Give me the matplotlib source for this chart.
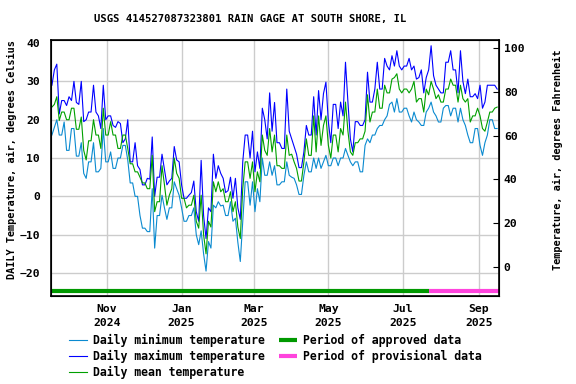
import matplotlib
matplotlib.use("Agg")
import matplotlib.pyplot as plt
import pandas as pd

# values, one every 2 days starting 2024-09-17
start_day = "2024-09-17"
t_max = [29, 33, 34.5, 21.5, 25, 25, 23.7, 26, 25, 30, 24.5, 24, 30, 19.5, 20, 22, 22, 29, 22, 21,
         17.7, 29, 20, 21, 21, 18.5, 18, 19.5, 19, 14, 15, 20, 9, 9, 14, 8, 7, 3, 3, 4.7,
         4.5, 15.5, 0, 5, 5, 11, 7, 3, 4, 4.7, 13, 9.5, 9, 3, -0.5, -0.5, 0.3, 1, 4, -4,
         -6.5, 9.4, -5, -11, -3, -4, 11, 4.7, 8, 6, 4.7, 1, 1.5, 5, -0.5, 4.7, -3, -6, 9, 16,
         16, 10, 17, 6.4, 11.6, 7.3, 23, 20, 15, 27, 17, 24.5, 14, 14, 12.5, 12.5, 28, 17, 15, 13,
         11, 7.5, 7.5, 11.6, 18.5, 16, 16, 26, 16, 27.6, 20, 26.8, 29.8, 19.4, 14, 24, 24, 17.7, 24.6, 21,
         35, 24.6, 15, 11.6, 19.5, 19.5, 18.5, 18.5, 20, 32.4, 24.6, 24.6, 28, 35, 28, 28, 36, 34, 33, 36.7,
         34, 38, 34, 33, 34, 34, 36, 33, 34, 30.6, 31, 33, 27, 31, 33, 39.3, 31.5, 29, 28, 27,
         27, 35, 35, 38, 33, 33, 27, 38, 30, 26.8, 30.6, 26, 26, 26.8, 25.5, 29, 23, 24.6, 29, 29,
         29, 29, 28]
t_mean = [23.3, 24, 26, 19.8, 22, 22, 20, 20, 23, 23, 17.5, 17.5, 20.7, 12, 9.5, 14.5, 14.5, 20, 16, 16,
          12.5, 23, 16, 16, 19.5, 16, 16, 12.5, 12.5, 16, 16, 12.5, 8.5, 8.5, 6.4, 6.4, 5, 3.5, 3.5, 2,
          2, 10.7, -4, -1.4, -1.4, 8, 3, -2.3, 0.3, 2, 10, 6, 4.7, -0.5, -0.5, -3, -2.3, -2.3, 0.3, -6.5,
          -8.3, 0.3, -10, -15, -6.5, -8, 3.8, 1.2, 3.8, 1.2, 2, -1.4, -1.4, 1.2, -4, -1.4, -8, -11, 2, 9,
          9, 4.7, 9, 1.2, 6.4, 3.8, 16, 12, 10.7, 17.7, 11.6, 16, 8, 8, 7.3, 7.3, 16, 10.7, 11, 9,
          7.3, 4, 4, 9, 15, 10.7, 10.7, 21, 11.6, 21, 13.3, 18.5, 21, 13.3, 10, 16, 16, 11.6, 17.7, 16,
          24.6, 17, 11.6, 10.7, 14, 14, 15, 15, 17, 26.5, 19.4, 22, 22, 28, 23, 23, 29, 27, 27, 30.6,
          31, 32, 28, 27, 28, 28, 27, 28, 30, 24.6, 25.5, 25.5, 22, 28, 26.5, 30, 28, 25.5, 26.5, 24.6,
          24.6, 28, 28, 30.6, 29, 29, 24.6, 29, 25.5, 24.6, 25.5, 19.4, 21, 21, 23, 21, 17.7, 17, 19.4, 22,
          22, 23, 23.3]
t_min = [16, 18, 20, 16, 16, 19.4, 12, 12, 17.7, 17.7, 10.5, 10.5, 14, 6, 4.7, 9, 9, 14, 6.4, 6.4,
         7.3, 17.7, 9, 9, 11.6, 7.3, 7.3, 10, 10, 13.3, 13.3, 9.5, 3.5, 3.5, 0, 0, -5, -8.3, -8.3, -9.2,
         -9.2, 2, -13.5, -5, -5, 0.3, -3, -6, -3, -3, 3.8, 2, 0.3, -3, -6.5, -6.5, -5, -5, -3, -10,
         -12.6, -9, -15, -19.5, -11.8, -13.5, -2.3, -3, -1.4, -2.5, -2.3, -5, -5, -1.4, -6.5, -5.7, -12, -17, -6.5, 3.8,
         3.8, -2.3, 3.8, -4, 2, -1.4, 10, 5.5, 5.5, 9, 5.5, 8, 3, 3, 3.8, 3.8, 9, 5.5, 5, 4.7,
         3, 0.5, 0.5, 5.5, 9, 6.4, 6.4, 10, 7.3, 10, 7.3, 9, 10.7, 8, 8, 10, 10, 8, 10, 10,
         12.5, 10.7, 9, 8, 9, 9, 6.4, 6.4, 13.3, 15, 14, 16, 16, 17.7, 18.5, 18.5, 20, 21, 24, 24.6,
         22, 25.5, 22, 22, 23, 23, 21, 19.4, 22, 20, 19.4, 18.5, 18.5, 22, 23, 24.6, 22, 21, 19.4, 19.4,
         23, 23.7, 23.7, 21, 23, 23, 19.4, 23, 20, 18.5, 16, 14, 14, 17.7, 17.7, 13.3, 10.7, 14, 16, 20,
         20, 17.7, 17.7]

period_start = pd.Timestamp("2024-09-16 06:00")
provisional_from = pd.Timestamp("2025-07-22")
period_end = pd.Timestamp("2025-09-17 12:00")
tick_months = ["2024-11-01", "2025-01-01", "2025-03-01", "2025-05-01", "2025-07-01", "2025-09-01"]
tick_labels = ["Nov\n2024", "Jan\n2025", "Mar\n2025", "May\n2025", "Jul\n2025", "Sep\n2025"]

dates = pd.date_range(start_day, periods=len(t_max), freq="2D")

plt.rcParams["font.family"] = "DejaVu Sans Mono"
plt.rcParams["font.weight"] = "bold"

fig = plt.figure(figsize=(5.76, 3.84), dpi=100)
ax = fig.add_axes([51 / 576, 1 - 296 / 384, 448 / 576, 256 / 384])

ax.plot(dates, t_min, color="#0a8ad0", lw=0.8, label="Daily minimum temperature")
ax.plot(dates, t_max, color="#0000ff", lw=0.8, label="Daily maximum temperature")
ax.plot(dates, t_mean, color="#00a000", lw=0.8, label="Daily mean temperature")

# approval status bar along the bottom
bar_y = -24.8
ax.plot([period_start, provisional_from], [bar_y, bar_y], color="#009900",
        lw=3, solid_capstyle="butt", label="Period of approved data")
ax.plot([provisional_from, period_end], [bar_y, bar_y], color="#ff44dd",
        lw=3, solid_capstyle="butt", label="Period of provisional data")

ax.set_xlim(period_start, period_end)
ax.set_ylim(-26, 40.8)
ax.set_yticks([-20, -10, 0, 10, 20, 30, 40])
ax.set_xticks(pd.to_datetime(tick_months))
ax.set_xticklabels(tick_labels, linespacing=1.45)
ax.grid(True, color="#cccccc", lw=1)
ax.yaxis.get_gridlines()[-1].set_visible(False)  # no line at 40, too close to frame
ax.set_axisbelow(True)
ax.tick_params(axis="both", length=0, labelsize=8.2)
ax.tick_params(axis="x", pad=6)
ax.tick_params(axis="y", pad=8)
for s in ax.spines.values():
    s.set_linewidth(1.2)

# fahrenheit scale on the right
ax2 = ax.twinx()
ax2.set_ylim(-13.3, 103.8)
ax2.set_yticks([0, 20, 40, 60, 80, 100])
ax2.tick_params(axis="y", direction="in", length=4, labelsize=8.2)

fig.text(250 / 576, 1 - 19 / 384, "USGS 414527087323801 RAIN GAGE AT SOUTH SHORE, IL",
         ha="center", va="center", fontsize=7.6)
fig.text(12 / 576, 1 - 160 / 384, "DAILY Temperature, air, degrees Celsius", rotation=90,
         ha="center", va="center", fontsize=7.4)
fig.text(558 / 576, 1 - 160 / 384, "Temperature, air, degrees Fahrenheit", rotation=90,
         ha="center", va="center", fontsize=7.4)

h, l = ax.get_legend_handles_labels()
fig.legend(h, l, ncol=2, loc="upper left", bbox_to_anchor=(69 / 576, 1 - 334 / 384),
           frameon=False, prop={"size": 8.3, "weight": "bold"}, handlelength=1.55,
           handletextpad=0.5, columnspacing=1.3, labelspacing=0.25, borderaxespad=0, borderpad=0)

fig.savefig("out.png", dpi=100)
